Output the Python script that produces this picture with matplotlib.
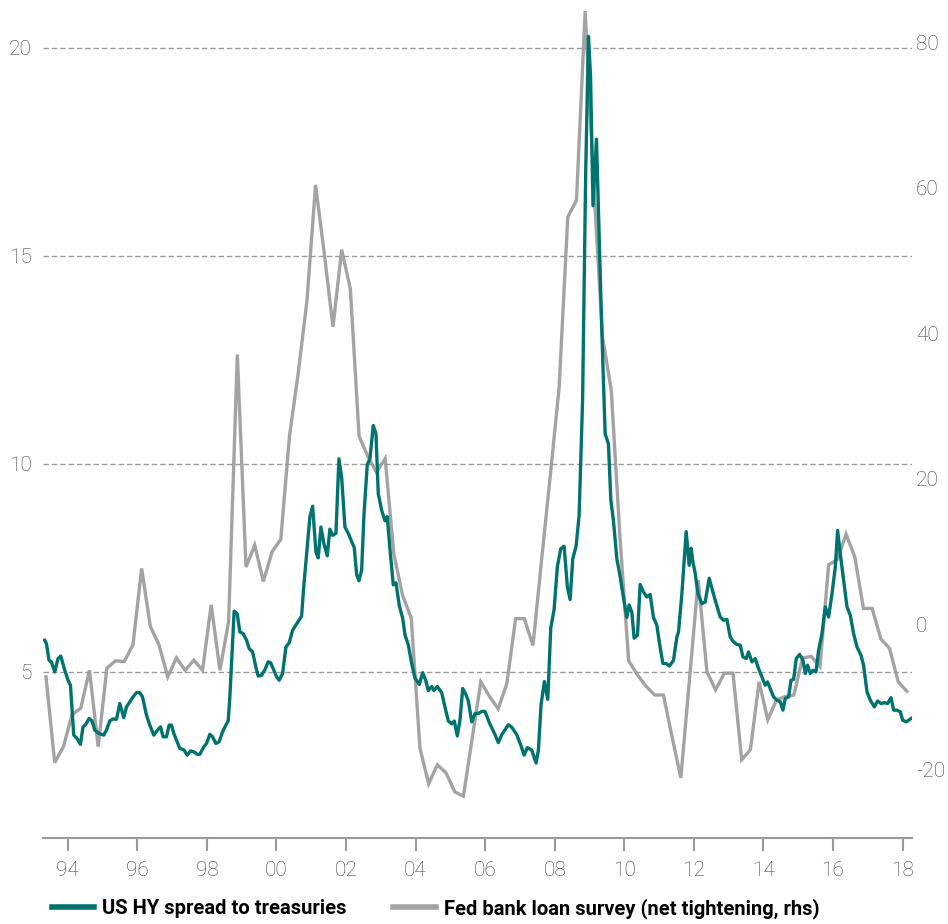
import numpy as np
import matplotlib
matplotlib.use("Agg")
import matplotlib.pyplot as plt
from matplotlib.lines import Line2D
from matplotlib.ticker import FixedLocator, FixedFormatter

plt.rcParams['font.family'] = ['Roboto', 'DejaVu Sans']

# US high-yield spread to treasuries (%), dated in decimal years
hy_years = [
    1993.338, 1993.387, 1993.462, 1993.531, 1993.626, 1993.721, 1993.799, 1993.914,
    1994.009, 1994.078, 1994.173, 1994.268, 1994.365, 1994.440, 1994.518, 1994.613,
    1994.699, 1994.777, 1994.900, 1995.036, 1995.113, 1995.208, 1995.303, 1995.401,
    1995.496, 1995.611, 1995.689, 1995.784, 1995.879, 1995.976, 1996.071, 1996.149,
    1996.264, 1996.359, 1996.474, 1996.581, 1996.667, 1996.742, 1996.839, 1996.914,
    1996.983, 1997.049, 1997.127, 1997.222, 1997.337, 1997.432, 1997.530, 1997.625,
    1997.720, 1997.797, 1997.913, 1997.990, 1998.085, 1998.163, 1998.258, 1998.353,
    1998.451, 1998.545, 1998.612, 1998.661, 1998.784, 1998.871, 1998.948, 1999.043,
    1999.141, 1999.216, 1999.314, 1999.408, 1999.475, 1999.573, 1999.667, 1999.762,
    1999.831, 1999.906, 2000.004, 2000.079, 2000.177, 2000.272, 2000.367, 2000.464,
    2000.579, 2000.723, 2000.789, 2000.884, 2000.962, 2001.040, 2001.135, 2001.201,
    2001.279, 2001.365, 2001.460, 2001.537, 2001.615, 2001.710, 2001.796, 2001.874,
    2001.969, 2002.064, 2002.162, 2002.236, 2002.305, 2002.372, 2002.449, 2002.516,
    2002.611, 2002.688, 2002.783, 2002.861, 2002.927, 2003.025, 2003.120, 2003.186,
    2003.264, 2003.359, 2003.436, 2003.531, 2003.629, 2003.695, 2003.790, 2003.888,
    2003.983, 2004.106, 2004.204, 2004.291, 2004.365, 2004.463, 2004.529, 2004.624,
    2004.751, 2004.846, 2004.941, 2005.039, 2005.113, 2005.200, 2005.277, 2005.355,
    2005.450, 2005.516, 2005.614, 2005.709, 2005.804, 2005.902, 2005.996, 2006.120,
    2006.284, 2006.379, 2006.477, 2006.667, 2006.765, 2006.909, 2007.024, 2007.119,
    2007.214, 2007.340, 2007.464, 2007.530, 2007.608, 2007.703, 2007.800, 2007.886,
    2007.981, 2008.076, 2008.174, 2008.269, 2008.364, 2008.442, 2008.519, 2008.614,
    2008.701, 2008.800, 2008.890, 2008.970, 2009.030, 2009.100, 2009.200, 2009.350,
    2009.449, 2009.544, 2009.613, 2009.687, 2009.785, 2009.880, 2009.995, 2010.073,
    2010.139, 2010.217, 2010.283, 2010.378, 2010.456, 2010.551, 2010.648, 2010.743,
    2010.838, 2010.936, 2011.011, 2011.109, 2011.204, 2011.299, 2011.414, 2011.512,
    2011.558, 2011.655, 2011.779, 2011.865, 2011.923, 2011.972, 2012.038, 2012.116,
    2012.231, 2012.326, 2012.441, 2012.547, 2012.642, 2012.757, 2012.853, 2012.950,
    2013.045, 2013.140, 2013.238, 2013.333, 2013.410, 2013.505, 2013.572, 2013.669,
    2013.764, 2013.859, 2013.957, 2014.052, 2014.118, 2014.196, 2014.291, 2014.389,
    2014.484, 2014.561, 2014.628, 2014.723, 2014.792, 2014.867, 2014.944, 2015.039,
    2015.137, 2015.203, 2015.269, 2015.347, 2015.424, 2015.511, 2015.586, 2015.683,
    2015.778, 2015.873, 2015.971, 2016.066, 2016.132, 2016.209, 2016.304, 2016.402,
    2016.497, 2016.592, 2016.689, 2016.804, 2016.879, 2016.977, 2017.072, 2017.187,
    2017.282, 2017.380, 2017.475, 2017.570, 2017.668, 2017.743, 2017.840, 2017.935,
    2018.001, 2018.108, 2018.243,
]
hy_spread = [
    5.76, 5.68, 5.28, 5.24, 5.00, 5.32, 5.38, 5.04,
    4.80, 4.68, 3.48, 3.40, 3.26, 3.68, 3.74, 3.88,
    3.82, 3.60, 3.52, 3.48, 3.60, 3.82, 3.87, 3.86,
    4.24, 3.90, 4.16, 4.28, 4.40, 4.50, 4.50, 4.40,
    3.96, 3.72, 3.48, 3.60, 3.68, 3.44, 3.44, 3.72,
    3.72, 3.52, 3.36, 3.16, 3.13, 3.00, 3.10, 3.08,
    3.02, 3.02, 3.20, 3.28, 3.50, 3.44, 3.28, 3.32,
    3.56, 3.72, 3.82, 4.40, 6.46, 6.40, 5.96, 5.92,
    5.76, 5.56, 5.48, 5.12, 4.90, 4.92, 5.05, 5.24,
    5.22, 5.08, 4.88, 4.80, 4.96, 5.60, 5.70, 6.00,
    6.15, 6.34, 7.09, 7.99, 8.73, 8.98, 7.88, 7.74,
    8.48, 8.08, 7.79, 8.43, 8.28, 8.33, 10.12, 9.68,
    8.48, 8.33, 8.13, 7.99, 7.34, 7.19, 7.44, 8.78,
    9.98, 10.12, 10.92, 10.72, 9.28, 8.88, 8.63, 8.73,
    7.94, 7.09, 7.14, 6.59, 6.29, 5.89, 5.65, 5.20,
    4.85, 4.70, 4.98, 4.80, 4.55, 4.65, 4.55, 4.65,
    4.50, 4.15, 3.82, 3.75, 3.82, 3.46, 3.85, 4.60,
    4.45, 4.30, 3.80, 4.00, 4.00, 4.05, 4.05, 3.78,
    3.49, 3.30, 3.49, 3.73, 3.67, 3.49, 3.24, 3.00,
    3.18, 3.12, 2.81, 3.12, 4.22, 4.77, 4.34, 6.06,
    6.49, 7.53, 7.96, 8.02, 7.04, 6.74, 7.72, 8.02,
    8.76, 11.50, 17.00, 20.27, 19.30, 16.20, 17.80, 13.30,
    10.72, 10.48, 9.13, 8.64, 7.72, 7.29, 6.68, 6.31,
    6.61, 6.43, 5.81, 5.88, 7.10, 6.92, 6.80, 6.86,
    6.31, 6.12, 5.69, 5.20, 5.20, 5.14, 5.28, 5.84,
    5.96, 6.88, 8.37, 7.56, 7.97, 7.64, 7.37, 6.88,
    6.64, 6.68, 7.25, 6.92, 6.64, 6.32, 6.24, 6.26,
    5.84, 5.72, 5.66, 5.64, 5.36, 5.32, 5.48, 5.24,
    5.32, 5.08, 4.88, 4.68, 4.76, 4.60, 4.40, 4.32,
    4.28, 4.08, 4.36, 4.40, 4.80, 4.82, 5.32, 5.42,
    5.28, 4.96, 5.16, 4.96, 5.04, 5.00, 5.52, 5.92,
    6.56, 6.32, 6.88, 7.52, 8.40, 7.84, 7.20, 6.56,
    6.36, 5.92, 5.60, 5.40, 5.16, 4.52, 4.32, 4.16,
    4.30, 4.24, 4.26, 4.24, 4.38, 4.08, 4.08, 4.04,
    3.84, 3.80, 3.88,
]

# Fed senior loan officer survey: net % of banks tightening, quarterly
survey_start = 1993.375
survey_net_tightening = [
    -7.2, -19.0, -16.8, -12.4, -11.5, -6.3, -16.8, -6.0, -5.0, -5.1,
    -2.8, 7.7, -0.3, -2.8, -7.2, -4.6, -6.3, -4.9, -6.3, 2.7,
    -6.3, 0.4, 37.1, 7.9, 10.9, 5.9, 10.0, 11.7, 25.9, 34.5,
    44.4, 60.4, 51.0, 40.9, 51.5, 46.1, 25.9, 23.1, 20.9, 22.8,
    9.7, 4.0, 0.9, -17.0, -21.9, -19.3, -20.4, -23.0, -23.6, -15.7,
    -7.9, -9.9, -11.6, -8.1, 0.8, 0.8, -2.9, 9.0, 20.6, 32.5,
    56.0, 58.3, 84.3, 60.0, 39.5, 32.2, 12.0, -5.0, -6.9, -8.5,
    -9.7, -9.7, -15.5, -21.1, -7.5, 6.1, -6.5, -9.0, -6.7, -6.7,
    -18.6, -17.2, -7.9, -13.1, -10.4, -9.9, -9.7, -4.6, -4.4, -5.8,
    8.2, 8.9, 12.4, 9.3, 2.2, 2.2, -2.0, -3.3, -7.9, -9.2,
]

year_ticks = [1994, 1996, 1998, 2000, 2002, 2004, 2006, 2008,
              2010, 2012, 2014, 2016, 2018]
year_labels = ["94", "96", "98", "00", "02", "04", "06", "08",
               "10", "12", "14", "16", "18"]
left_ticks = [5, 10, 15, 20]
left_labels = ["5", "10", "15", "20"]
right_ticks = [-20, 0, 20, 40, 60, 80]
right_labels = ["-20", "0", "20", "40", "60", "80"]

TEAL = "#00736e"
GREY = "#a3a3a3"
AXIS_GREY = "#9a9a9a"
LABEL_GREY = "#444444"

survey_years = survey_start + 0.25 * np.arange(len(survey_net_tightening))

fig = plt.figure(figsize=(9.48, 9.24), dpi=100)
ax = fig.add_axes([0.0454, 0.0927, 0.9166, 0.9008])
ax2 = ax.twinx()

ax.set_zorder(ax2.get_zorder() + 1)
ax.patch.set_visible(False)

ax2.plot(survey_years, survey_net_tightening, color=GREY, lw=2.4,
         solid_joinstyle="miter", zorder=2)
ax.plot(hy_years, hy_spread, color=TEAL, lw=2.4, zorder=3)

ax.set_xlim(1993.29, 2018.27)
ax.set_ylim(1.0, 21.0)
ax2.set_ylim(-29.4, 85.0)

for v in left_ticks:
    ax.axhline(v, color=AXIS_GREY, lw=1.0, ls=(0, (4, 2)), zorder=1)

ax.xaxis.set_major_locator(FixedLocator(year_ticks))
ax.xaxis.set_major_formatter(FixedFormatter(year_labels))
ax.yaxis.set_major_locator(FixedLocator(left_ticks))
ax.yaxis.set_major_formatter(FixedFormatter(left_labels))
ax2.yaxis.set_major_locator(FixedLocator(right_ticks))
ax2.yaxis.set_major_formatter(FixedFormatter(right_labels))

for a in (ax, ax2):
    for side in ("top", "left", "right"):
        a.spines[side].set_visible(False)
ax2.spines["bottom"].set_visible(False)
ax.spines["bottom"].set_color(AXIS_GREY)
ax.spines["bottom"].set_linewidth(1.5)

tick_font = {"family": ["Roboto", "DejaVu Sans"], "weight": "light", "size": 15}
ax.tick_params(axis="x", direction="out", length=9, width=1.5,
               color=AXIS_GREY, labelcolor=LABEL_GREY, pad=7)
ax.tick_params(axis="y", length=0, labelcolor=LABEL_GREY, pad=8)
ax2.tick_params(axis="y", length=0, labelcolor=LABEL_GREY, pad=3)
for lab in ax.get_xticklabels() + ax.get_yticklabels() + ax2.get_yticklabels():
    lab.set_fontproperties(tick_font)

handles = [
    Line2D([], [], color=TEAL, lw=4.0),
    Line2D([], [], color=GREY, lw=4.0),
]
labels = ["US HY spread to treasuries",
          "Fed bank loan survey (net tightening, rhs)"]
fig.legend(handles, labels, loc="center left", bbox_to_anchor=(0.0549, 0.017),
           ncol=2, frameon=False, handlelength=2.1, handletextpad=0.4,
           columnspacing=2.3, borderpad=0.0, borderaxespad=0.0,
           prop={"family": ["Roboto", "DejaVu Sans"], "weight": "bold", "size": 14.5})

fig.savefig("out.png", dpi=100)
